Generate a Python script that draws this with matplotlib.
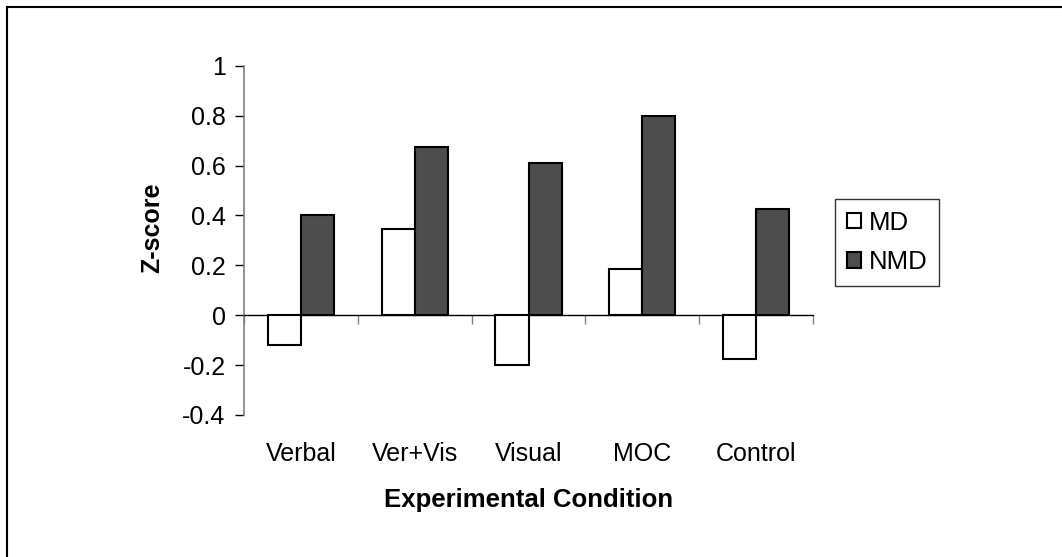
import numpy as np
import matplotlib.pyplot as plt
from matplotlib.lines import Line2D

plt.rcParams['font.family'] = ['Liberation Sans', 'DejaVu Sans']

conditions = ["Verbal", "Ver+Vis", "Visual", "MOC", "Control"]
md_scores = [-0.12, 0.345, -0.20, 0.185, -0.176]
nmd_scores = [0.40, 0.673, 0.61, 0.80, 0.424]
yticks = [-0.4, -0.2, 0, 0.2, 0.4, 0.6, 0.8, 1]
ytick_labels = ["-0.4", "-0.2", "0", "0.2", "0.4", "0.6", "0.8", "1"]

W, H = 1062, 557
fig = plt.figure(figsize=(W / 100, H / 100), dpi=100)
ax = fig.add_axes([244 / W, 1 - 415 / H, 569 / W, 349.3 / H])

x = np.arange(len(conditions))
bw = 0.29
ax.bar(x - bw / 2, md_scores, bw, color="white", edgecolor="black",
       linewidth=1.5, label="MD", zorder=3)
ax.bar(x + bw / 2, nmd_scores, bw, color="#4d4d4d", edgecolor="black",
       linewidth=1.5, label="NMD", zorder=3)

ax.set_xlim(-0.5, len(conditions) - 0.5)
ax.set_ylim(-0.4, 1)

# spines
for s in ["top", "right"]:
    ax.spines[s].set_visible(False)
ax.spines["bottom"].set_position(("data", 0))
ax.spines["bottom"].set_color("black")
ax.spines["bottom"].set_linewidth(1.0)
ax.spines["left"].set_color("#808080")
ax.spines["left"].set_linewidth(1.2)

ax.set_yticks(yticks)
ax.set_yticklabels(ytick_labels, fontsize=18)
ax.tick_params(axis="y", direction="out", length=6.3, width=1, color="black", pad=7)

# category labels at centres, dividing ticks between categories
ax.set_xticks(x)
ax.set_xticklabels(conditions, fontsize=18)
ax.tick_params(axis="x", which="major", length=0, pad=91)
ax.set_xticks(np.arange(-0.5, len(conditions)), minor=True)
ax.tick_params(axis="x", which="minor", direction="out", length=6.3, width=1, color="#808080")

ax.set_xlabel("Experimental Condition", fontsize=18.5, fontweight="bold", va="center")
ax.xaxis.set_label_coords(0.5, (415 - 500) / 349.3)
ax.set_ylabel("Z-score", fontsize=18, fontweight="bold", va="center", ha="center")
ax.yaxis.set_label_coords((152 - 244) / 569, (415 - 228) / 349.3)

leg = ax.legend(loc="upper left", bbox_to_anchor=(835 / W, 1 - 199 / H),
                bbox_transform=fig.transFigure, fontsize=18.5, frameon=True,
                fancybox=False, borderaxespad=0, handlelength=0.55, handleheight=0.55,
                handletextpad=0.3, labelspacing=0.6, borderpad=0.45)
leg.get_frame().set_edgecolor("black")
leg.get_frame().set_linewidth(1.0)

# outer frame (left and top edges visible)
fig.add_artist(Line2D([7 / W, 7 / W], [0, 1 - 7 / H], transform=fig.transFigure,
                      color="black", linewidth=1.5))
fig.add_artist(Line2D([7 / W, 1], [1 - 7 / H, 1 - 7 / H], transform=fig.transFigure,
                      color="black", linewidth=1.5))

fig.savefig("out.png", dpi=100)
